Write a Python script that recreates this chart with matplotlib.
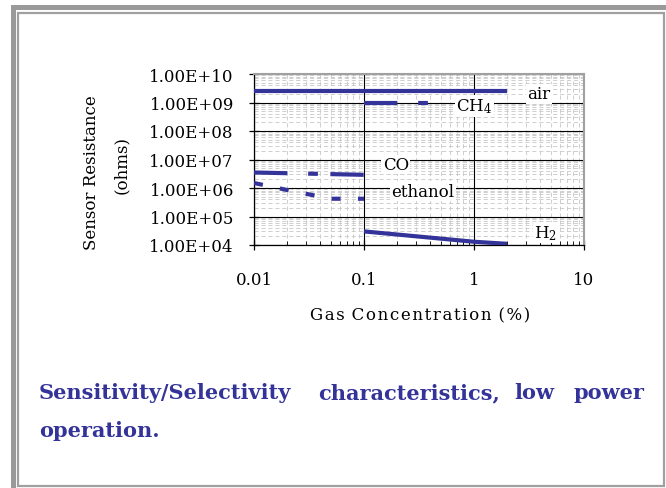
"""Sensor resistance vs gas concentration slide figure."""
import matplotlib
matplotlib.use('Agg')
import matplotlib.pyplot as plt
import matplotlib.patches as patches
import numpy as np
from matplotlib.ticker import FixedLocator, LogLocator, NullFormatter

plt.rcParams['font.family'] = ['DejaVu Serif']
plt.rcParams['mathtext.fontset'] = 'dejavuserif'
plt.rcParams['lines.scale_dashes'] = False

# ---- data ----
air_x = [0.01, 2.0]
air_y = [2.6e9, 2.6e9]
ch4_x = [0.1, 0.4]
ch4_y = [1.0e9, 1.0e9]
co_x = [0.01, 0.1]
co_y = [3.5e6, 2.9e6]
eth_x = [0.01, 0.02, 0.05, 0.1]
eth_y = [1.5e6, 8.5e5, 4.2e5, 4.2e5]
h2_x = [0.1, 1.0, 2.0]
h2_y = [3.0e4, 1.3e4, 1.1e4]

xticks = [0.01, 0.1, 1, 10]
xtick_labels = ['0.01', '0.1', '1', '10']
yticks = [1e4, 1e5, 1e6, 1e7, 1e8, 1e9, 1e10]
ytick_labels = ['1.00E+04', '1.00E+05', '1.00E+06', '1.00E+07',
                '1.00E+08', '1.00E+09', '1.00E+10']

W, H = 666, 489
navy = '#333399'
fig = plt.figure(figsize=(W / 100, H / 100), dpi=100)

# background axes in pixel coordinates for the slide frame + caption
bg = fig.add_axes([0, 0, 1, 1], zorder=-5)
bg.set_xlim(0, W)
bg.set_ylim(H, 0)
bg.axis('off')
bg.add_patch(patches.Rectangle((10.5, 5.5), 5, H, facecolor='#9a9a9a', edgecolor='none'))
bg.add_patch(patches.Rectangle((10.5, 5.5), W, 5, facecolor='#9a9a9a', edgecolor='none'))
bg.add_patch(patches.Rectangle((18, 13.5), 645.5, 473, facecolor='none',
                               edgecolor='#a0a0a0', linewidth=1.6))

# caption, justified by hand
cap = dict(color=navy, fontsize=15, fontweight='bold', va='baseline')
bg.text(39, 399, 'Sensitivity/Selectivity', ha='left', **cap)
bg.text(318, 399, 'characteristics,', ha='left', **cap)
bg.text(514, 399, 'low', ha='left', **cap)
bg.text(644, 399, 'power', ha='right', **cap)
bg.text(39, 437, 'operation.', ha='left', **cap)

# chart
ax = fig.add_axes([254 / W, 1 - 246 / H, 330 / W, 171 / H])
ax.set_xscale('log')
ax.set_yscale('log')
ax.set_xlim(0.01, 10)
ax.set_ylim(1e4, 1e10)

lw = 3.0
ax.plot(air_x, air_y, color=navy, lw=lw, solid_capstyle='butt', zorder=3)
ax.plot(ch4_x, ch4_y, color=navy, lw=lw, dashes=(24, 15, 7, 9), zorder=3)
ax.plot(co_x, co_y, color=navy, lw=lw, dashes=(24, 15, 7, 9), zorder=3)
ax.plot(eth_x, eth_y, color=navy, lw=lw, dashes=(6.5, 12.5), zorder=3)
ax.plot(h2_x, h2_y, color=navy, lw=lw, solid_capstyle='butt', zorder=3)

# ticks and grid
ax.xaxis.set_major_locator(FixedLocator(xticks))
ax.yaxis.set_major_locator(FixedLocator(yticks))
ax.xaxis.set_minor_locator(LogLocator(base=10, subs=np.arange(2, 10), numticks=50))
ax.yaxis.set_minor_locator(LogLocator(base=10, subs=np.arange(2, 10), numticks=50))
ax.set_xticklabels(xtick_labels)
ax.set_yticklabels(ytick_labels)
ax.xaxis.set_minor_formatter(NullFormatter())
ax.yaxis.set_minor_formatter(NullFormatter())
ax.grid(which='minor', color='#c8c8c8', linestyle=(0, (3, 2)), linewidth=0.6)
ax.grid(which='major', color='black', linewidth=0.8)
ax.set_axisbelow(True)

for s in ['top', 'right']:
    ax.spines[s].set_color('#a0a0a0')
    ax.spines[s].set_linewidth(1.5)
for s in ['left', 'bottom']:
    ax.spines[s].set_color('black')
    ax.spines[s].set_linewidth(0.9)

ax.tick_params(which='major', direction='inout', length=7, width=0.9,
               labelsize=12)
ax.tick_params(axis='y', which='major', pad=11)
ax.tick_params(axis='x', which='major', pad=15)
ax.tick_params(axis='x', which='minor', direction='in', length=3, width=0.6)
ax.tick_params(axis='y', which='minor', length=0)

# series labels (positions in data coords, baseline aligned)
lab = dict(fontsize=12, va='baseline', ha='left', zorder=4,
           bbox=dict(facecolor='white', edgecolor='none', pad=1))
ax.text(3.05, 1.40e9, 'air', **lab)
ax.text(0.69, 5.15e8, 'CH$_4$', **lab)
ax.text(0.148, 4.64e6, 'CO', **lab)
ax.text(0.178, 5.37e5, 'ethanol', **lab)
ax.text(3.53, 1.86e4, 'H$_2$', **lab)

hair = '\u200a'
xlab = (' ' + hair).join(hair.join(w) for w in 'Gas Concentration (%)'.split(' '))
fig.text(420 / W, 1 - 316 / H, xlab, fontsize=12, ha='center', va='center')
fig.text(92 / W, 1 - 173 / H, 'Sensor Resistance', fontsize=12, rotation=90,
         ha='center', va='center')
fig.text(122 / W, 1 - 165 / H, '(ohms)', fontsize=12, rotation=90,
         ha='center', va='center')

fig.savefig('out.png', dpi=100)
